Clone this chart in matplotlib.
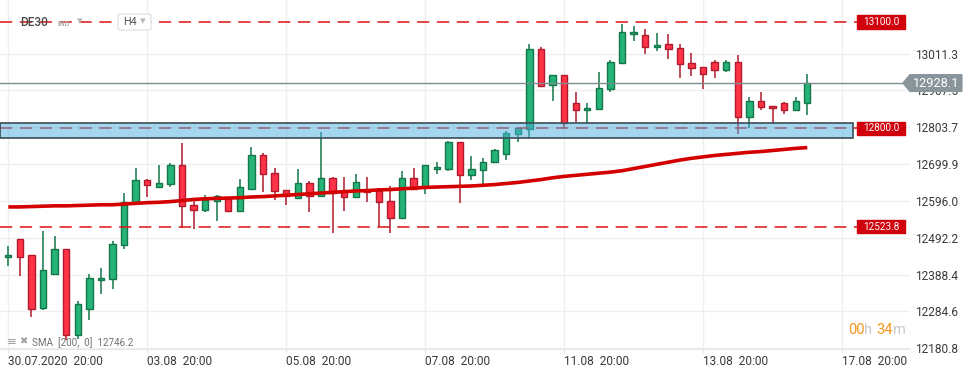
# -*- coding: utf-8 -*-

import numpy as np
import matplotlib
matplotlib.use("Agg")
import matplotlib.pyplot as plt
from matplotlib.patches import Rectangle, Polygon, FancyBboxPatch
import matplotlib.transforms as mtransforms

plt.rcParams['font.family'] = ['Roboto', 'DejaVu Sans']

# --- 1. DATA (DE30, H4 candles) ---
opens = [12437, 12488, 12443, 12295, 12389, 12460, 12217, 12290, 12372, 12375,
         12471, 12593, 12654, 12636, 12643, 12696, 12584, 12570, 12595, 12601,
         12567, 12630, 12724, 12674, 12626, 12603, 12646, 12611, 12660, 12623,
         12606, 12625, 12625, 12596, 12549, 12660, 12635, 12685, 12687, 12761,
         12668, 12682, 12705, 12727, 12784, 12798, 13023, 12922, 12950, 12871,
         12851, 12854, 12910, 12984, 13065, 13063, 13029, 13037, 13026, 12984,
         12972, 12987, 12964, 12987, 12832, 12877, 12863, 12871, 12851, 12871]
highs = [12469, 12489, 12443, 12511, 12497, 12461, 12314, 12390, 12408, 12483,
         12619, 12689, 12657, 12697, 12703, 12758, 12603, 12613, 12613, 12602,
         12658, 12748, 12732, 12689, 12627, 12686, 12652, 12790, 12663, 12663,
         12672, 12663, 12632, 12638, 12680, 12689, 12697, 12706, 12765, 12762,
         12723, 12716, 12742, 12792, 12801, 13038, 13029, 12951, 12951, 12903,
         12871, 12958, 12992, 13094, 13089, 13080, 13068, 13065, 13037, 13012,
         12973, 12992, 12992, 13006, 12888, 12903, 12864, 12874, 12888, 12953]
lows = [12412, 12385, 12270, 12288, 12388, 12204, 12207, 12260, 12333, 12348,
        12461, 12592, 12608, 12634, 12634, 12520, 12516, 12566, 12540, 12566,
        12566, 12627, 12622, 12599, 12584, 12602, 12566, 12610, 12506, 12568,
        12605, 12594, 12523, 12505, 12546, 12627, 12616, 12673, 12681, 12591,
        12654, 12634, 12702, 12712, 12763, 12772, 12918, 12878, 12799, 12819,
        12815, 12853, 12902, 12983, 13047, 13011, 13019, 12997, 12943, 12949,
        12912, 12941, 12958, 12784, 12801, 12851, 12815, 12840, 12851, 12837]
closes = [12443, 12439, 12292, 12400, 12460, 12217, 12305, 12378, 12378, 12474,
          12594, 12654, 12640, 12646, 12696, 12581, 12570, 12598, 12611, 12567,
          12634, 12724, 12671, 12623, 12611, 12646, 12611, 12660, 12618, 12606,
          12648, 12620, 12592, 12547, 12660, 12630, 12696, 12691, 12761, 12668,
          12685, 12705, 12739, 12787, 12801, 13023, 12919, 12950, 12815, 12851,
          12857, 12913, 12986, 13071, 13071, 13029, 13034, 13023, 12981, 12970,
          12953, 12964, 12987, 12832, 12877, 12860, 12857, 12851, 12877, 12928.1]

# SMA(200) values at each candle
sma = [12579, 12579, 12580, 12581, 12582, 12582, 12583, 12584, 12585, 12585,
       12587, 12589, 12591, 12592, 12594, 12597, 12600, 12602, 12603, 12604,
       12605, 12607, 12608, 12610, 12612, 12614, 12616, 12618, 12620, 12622,
       12624, 12625, 12627, 12628, 12630, 12632, 12634, 12635, 12636, 12637,
       12638, 12640, 12642, 12645, 12648, 12652, 12656, 12661, 12665, 12668,
       12671, 12674, 12677, 12681, 12687, 12693, 12699, 12705, 12711, 12716,
       12720, 12724, 12727, 12730, 12733, 12735, 12738, 12741, 12744, 12746.2]

x_tick_pos = [0, 12, 24, 36, 48, 60, 72]
x_tick_labels = ['30.07.2020  20:00', '03.08  20:00', '05.08  20:00', '07.08  20:00',
                 '11.08  20:00', '13.08  20:00', '17.08  20:00']
y_ticks = [12180.8, 12284.6, 12388.4, 12492.2, 12596.0, 12699.9, 12803.7, 12907.5, 13011.3]

levels = [13100.0, 12800.0, 12523.8]
zone_low, zone_high = 12772.4, 12814.6
last_price = 12928.1
sma_last = 12746.2

# --- 2. STYLE ---
green_fill, green_edge = '#25b377', '#13774a'
red_fill, red_edge = '#ff3347', '#b01a2c'
grid_c = '#efefef'
txt_c = '#3a3a3a'

W, H = 974, 375
fig = plt.figure(figsize=(W / 100, H / 100), dpi=100)
ax = fig.add_axes([0, 1 - 349 / H, 910 / W, 349 / H])

x = np.arange(len(opens))
o = np.array(opens, float)
c = np.array(closes, float)
up = c >= o

ax.set_xlim(-0.717, 77.87)
ax.set_ylim(12178.6, 13162.1)

# grid
for yt in y_ticks:
    ax.axhline(yt, color=grid_c, lw=1, zorder=0)
for xt in x_tick_pos:
    ax.axvline(xt, color=grid_c, lw=1, zorder=0)

# candles
ax.vlines(x, lows, highs, colors=np.where(up, green_edge, red_edge), lw=1.1, zorder=2)
ax.bar(x, np.maximum(np.abs(c - o), 4), bottom=np.minimum(o, c), width=0.55,
       color=np.where(up, green_fill, red_fill), edgecolor=np.where(up, green_edge, red_edge),
       linewidth=1.0, zorder=3)

# SMA
ax.plot(x, sma, color='#d40000', lw=2.6, zorder=4, solid_capstyle='butt')

# horizontal levels + tags
bt = mtransforms.blended_transform_factory(ax.transAxes, ax.transData)
for lv in levels:
    ax.plot([0, 0.9418], [lv, lv], transform=bt, color='#dd1111', lw=1.1,
            dashes=(8, 5), zorder=5)
    ax.add_patch(Rectangle((0.9418, lv - 19.7), 0.0527, 39.4, transform=bt,
                           color='#d0000c', zorder=7, clip_on=False))
    ax.text(0.9681, lv, f'{lv:.1f}', transform=bt, ha='center', va='center',
            color='white', fontsize=7.2, zorder=8)

# support zone
ax.add_patch(Rectangle((0, zone_low), 0.9374, zone_high - zone_low, transform=bt,
                       facecolor='#4bb1e1', alpha=0.5, edgecolor='none', zorder=6))
ax.add_patch(Rectangle((0, zone_low), 0.9374, zone_high - zone_low, transform=bt,
                       facecolor='none', edgecolor='#3d4b55', lw=1.2, zorder=6))

# last price line + tag
ax.plot([0, 0.9923], [last_price, last_price], transform=bt, color='#7f8c92', lw=1.0, zorder=5)
hh = 23.4
ax.add_patch(Polygon([(0.9923, last_price), (1.0, last_price + hh), (1.057, last_price + hh),
                      (1.057, last_price - hh), (1.0, last_price - hh)], closed=True,
                     transform=bt, color='#89959b', zorder=9, clip_on=False))
ax.text(1.029, last_price, f'{last_price:.1f}', transform=bt, ha='center', va='center',
        color='white', fontsize=9.2, zorder=10, clip_on=False)

# axes
for s in ['top', 'left', 'right']:
    ax.spines[s].set_visible(False)
ax.spines['bottom'].set_color('#e6e6e6')
ax.yaxis.tick_right()
ax.set_yticks(y_ticks)
ax.set_yticklabels([f'{v:.1f}' for v in y_ticks])
ax.tick_params(axis='y', length=0, pad=4, labelsize=8.6, labelcolor=txt_c)
ax.set_xticks(x_tick_pos)
ax.set_xticklabels(x_tick_labels, ha='left')
ax.tick_params(axis='x', length=3, color='#e6e6e6', pad=1, labelsize=8.6, labelcolor=txt_c)

# header
def fx(px):
    return px / W

def fy(py):
    return 1 - py / H

fig.text(fx(20), fy(22), 'DE30', fontsize=8.6, color='#4a4a4a', va='center', fontweight='medium')
fig.text(fx(57), fy(23), 'IND', fontsize=5.5, color='#b0b0b0', va='center', fontweight='bold')
fig.text(fx(77), fy(21), '▾', fontsize=8, color='#b8b8b8', va='center')
fig.patches.append(FancyBboxPatch(
    (fx(118), fy(30)), fx(33), 16 / H, boxstyle='round,pad=0,rounding_size=0.004',
    transform=fig.transFigure, facecolor='white', edgecolor='#dddddd', lw=0.8, zorder=1))
fig.text(fx(123), fy(22), 'H4', fontsize=7.8, color='#555555', va='center', zorder=2)
fig.text(fx(140), fy(21), '▾', fontsize=8, color='#b8b8b8', va='center', zorder=2)

# SMA legend
fig.text(fx(7), fy(342), '≡', fontsize=8.5, color='#a0a0a0', va='center')
fig.text(fx(19), fy(341), '✖', fontsize=7, color='#a0a0a0', va='center')
fig.text(fx(32), fy(343), f'SMA  [200,  0]  {sma_last:.1f}', fontsize=7.1, color='#707070', va='center')

# countdown
fig.text(fx(848), fy(330), '00', fontsize=10.5, color='#f7941d', va='center')
fig.text(fx(864), fy(330), 'h', fontsize=10.5, color='#c8c8c8', va='center')
fig.text(fx(876), fy(330), '34', fontsize=10.5, color='#f7941d', va='center')
fig.text(fx(893), fy(330), 'm', fontsize=10.5, color='#c8c8c8', va='center')

plt.savefig('out.png', dpi=100)
